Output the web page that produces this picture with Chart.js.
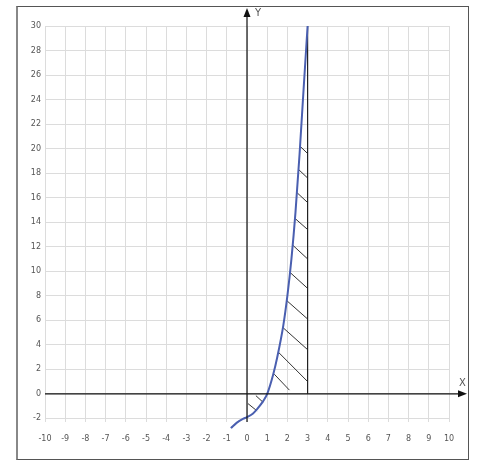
<!DOCTYPE html>
<html>
<head>
<meta charset="utf-8">
<script src="https://cdn.jsdelivr.net/npm/chart.js@4/dist/chart.umd.min.js"></script>
<style>
  body { margin: 0; background: #fff; }
  #wrap { width: 500px; height: 473px; position: relative; }
  #frame { position: absolute; left: 16px; top: 6px; width: 453px; height: 454px; border: 1px solid #555; border-left: 2px solid #888; box-sizing: border-box; }
</style>
</head>
<body>
<div id="wrap">
  <div id="frame"></div>
  <canvas id="c" width="500" height="473"></canvas>
</div>
<script>
const xTicks = [-10,-9,-8,-7,-6,-5,-4,-3,-2,-1,0,1,2,3,4,5,6,7,8,9,10];
const yTicks = [-2,0,2,4,6,8,10,12,14,16,18,20,22,24,26,28,30];

// curve
const curveX = [-0.8,-0.5,-0.2,0,0.3,0.5,0.8,1,1.3,1.5,1.8,2,2.2,2.4,2.6,2.8,3];
const curveY = [-2.8,-2.35,-2.05,-1.9,-1.6,-1.25,-0.6,0,1.6,3.0,5.6,8.0,11.0,14.8,19.5,24.8,30];

// right boundary of the shaded region
const edgeX = [3, 3];
const edgeY = [0, 30];

// hatch segments [x1, y1, x2, y2]
const hatches = [
  [0.05,-0.8,0.5,-1.4],
  [0.44,-0.15,0.8,-0.7],
  [1.35,1.6,2.1,0.3],
  [1.55,3.4,3,1.0],
  [1.78,5.4,3,3.6],
  [1.97,7.6,3,6.1],
  [2.13,9.9,3,8.6],
  [2.28,12.1,3,11.0],
  [2.38,14.3,3,13.4],
  [2.48,16.4,3,15.6],
  [2.55,18.3,3,17.6],
  [2.62,20.2,3,19.6]
];

const datasets = [
  { data: curveX.map((x, i) => ({ x, y: curveY[i] })), borderColor: '#4a5fb0', borderWidth: 2, pointRadius: 0, tension: 0.4, cubicInterpolationMode: 'monotone' },
  { data: edgeX.map((x, i) => ({ x, y: edgeY[i] })), borderColor: '#222', borderWidth: 1.2, pointRadius: 0 }
];
hatches.forEach(h => {
  datasets.push({ data: [{ x: h[0], y: h[1] }, { x: h[2], y: h[3] }], borderColor: '#333', borderWidth: 1, pointRadius: 0 });
});

const axesPlugin = {
  id: 'axes',
  afterDatasetsDraw(chart) {
    const ctx = chart.ctx;
    const xs = chart.scales.x, ys = chart.scales.y;
    const x0 = xs.getPixelForValue(0), y0 = ys.getPixelForValue(0);
    const area = chart.chartArea;
    ctx.save();
    ctx.strokeStyle = '#111';
    ctx.fillStyle = '#111';
    ctx.lineWidth = 1.2;
    ctx.beginPath();
    ctx.moveTo(area.left, y0); ctx.lineTo(area.right + 12, y0);
    ctx.moveTo(x0, area.bottom); ctx.lineTo(x0, area.top - 12);
    ctx.stroke();
    ctx.beginPath();
    ctx.moveTo(area.right + 18, y0); ctx.lineTo(area.right + 9, y0 - 3.5); ctx.lineTo(area.right + 9, y0 + 3.5); ctx.closePath(); ctx.fill();
    ctx.beginPath();
    ctx.moveTo(x0, area.top - 18); ctx.lineTo(x0 - 3.5, area.top - 9); ctx.lineTo(x0 + 3.5, area.top - 9); ctx.closePath(); ctx.fill();
    ctx.font = '10px "DejaVu Sans"';
    ctx.fillStyle = '#555';
    ctx.fillText('Y', x0 + 8, area.top - 10);
    ctx.fillText('X', area.right + 10, y0 - 8);
    ctx.restore();
  }
};

new Chart(document.getElementById('c'), {
  type: 'line',
  data: { datasets },
  plugins: [axesPlugin],
  options: {
    responsive: false,
    animation: false,
    layout: { padding: { top: 26, right: 51, left: 0, bottom: 0 } },
    plugins: { legend: { display: false }, tooltip: { enabled: false } },
    scales: {
      x: {
        type: 'linear', min: -10, max: 10,
        afterBuildTicks: s => { s.ticks = xTicks.map(v => ({ value: v })); },
        afterFit: s => { s.height = 51; },
        grid: { color: '#dcdcdc', drawTicks: false },
        border: { display: false },
        ticks: { color: '#555', font: { size: 8, family: 'DejaVu Sans' }, padding: 12, maxRotation: 0 }
      },
      y: {
        type: 'linear', min: -2.3, max: 30,
        afterBuildTicks: s => { s.ticks = yTicks.map(v => ({ value: v })); },
        afterFit: s => { s.width = 45; },
        grid: { color: '#dcdcdc', drawTicks: false },
        border: { display: false },
        ticks: { color: '#555', font: { size: 8, family: 'DejaVu Sans' }, padding: 4 }
      }
    },
    elements: { line: { fill: false } },
    clip: false
  }
});
</script>
</body>
</html>
